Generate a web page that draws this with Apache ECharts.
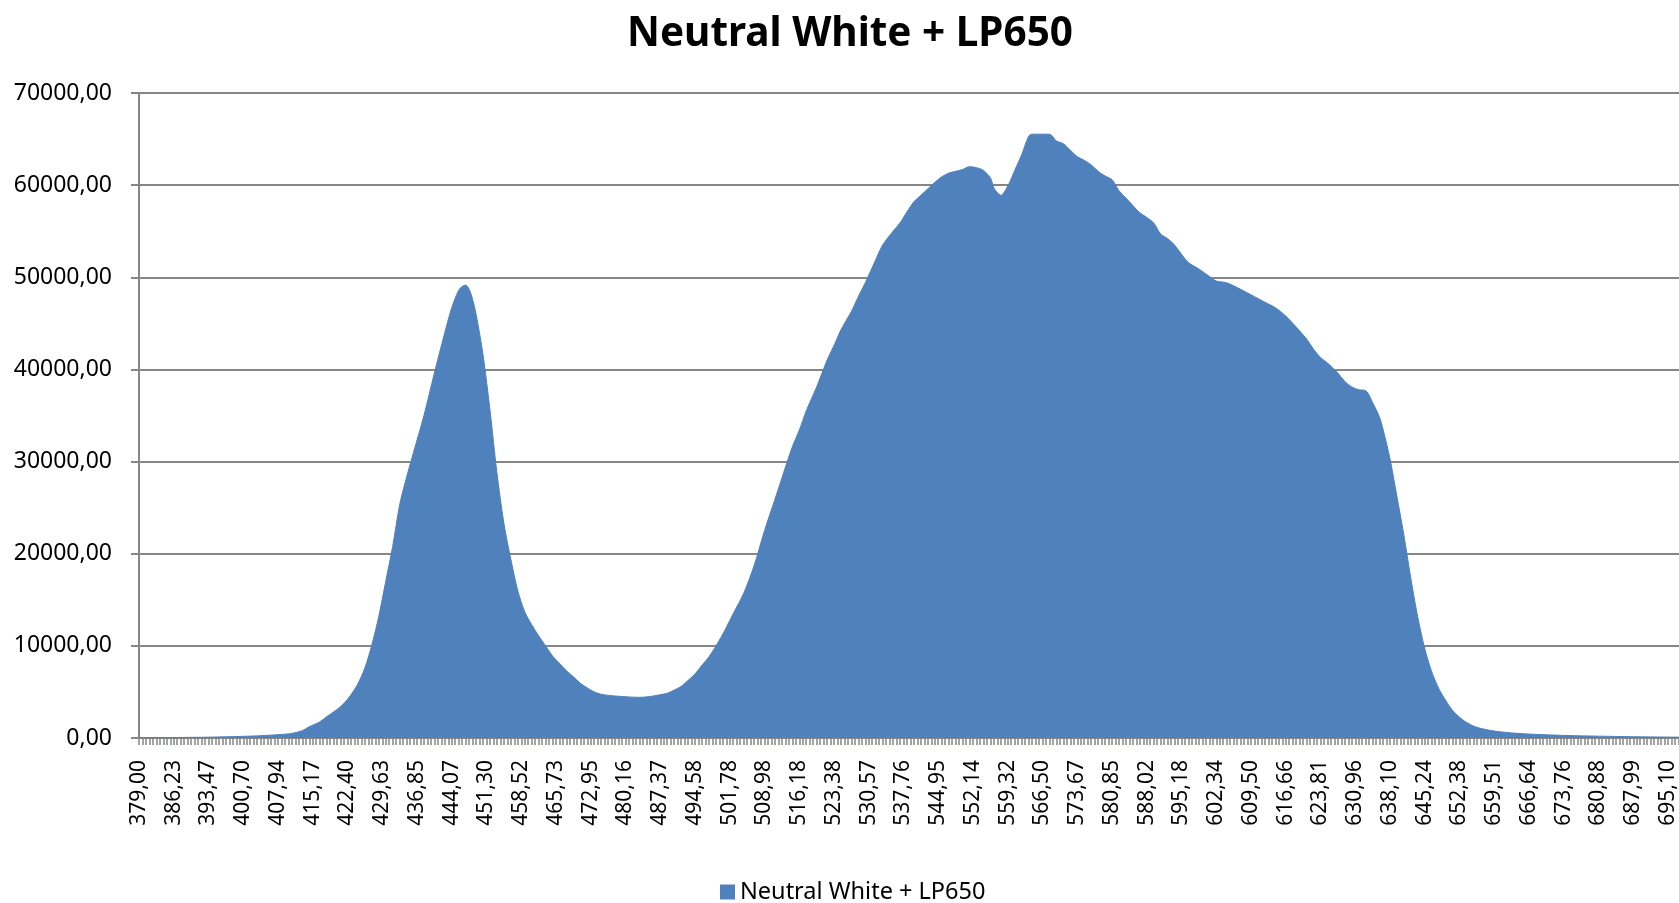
<!DOCTYPE html>
<html>
<head>
<meta charset="utf-8">
<title>Neutral White + LP650</title>
<script src="https://cdn.jsdelivr.net/npm/echarts@6/dist/echarts.min.js"></script>
<style>
  html, body { margin: 0; padding: 0; background: #fff; }
  #chart { width: 1679px; height: 903px; }
</style>
</head>
<body>
<div id="chart"></div>
<script>
// wavelength labels, one every 10 detector pixels
const tickLabels = ['379,00', '386,23', '393,47', '400,70', '407,94', '415,17', '422,40', '429,63',
  '436,85', '444,07', '451,30', '458,52', '465,73', '472,95', '480,16', '487,37', '494,58', '501,78',
  '508,98', '516,18', '523,38', '530,57', '537,76', '544,95', '552,14', '559,32', '566,50', '573,67',
  '580,85', '588,02', '595,18', '602,34', '609,50', '616,66', '623,81', '630,96', '638,10', '645,24',
  '652,38', '659,51', '666,64', '673,76', '680,88', '687,99', '695,10']

// detector pixel index (0 = 379,00 nm)
const pixelIdx = [0, 5, 10, 15, 20, 25, 30, 35, 40, 44, 47, 49, 52, 54, 57, 59, 61, 63, 65, 67, 69, 71,
  73, 75, 77, 79, 82, 85, 88, 90, 92, 93, 94, 95, 96, 97, 99, 101, 103, 105, 107, 109, 111, 113, 115,
  117, 119, 121, 123, 125, 127, 130, 132, 134, 137, 140, 144, 147, 150, 152, 154, 156, 158, 160, 162,
  164, 167, 169, 171, 174, 177, 180, 183, 185, 188, 190, 192, 195, 198, 200, 202, 205, 207, 209, 212,
  214, 217, 219, 221, 223, 225, 227, 229, 231, 233, 235, 237, 239, 241, 243, 245, 246, 247, 248, 250,
  252, 254, 256, 257, 262, 264, 266, 268, 270, 272, 274, 276, 278, 280, 282, 284, 286, 288, 290, 292,
  294, 296, 298, 300, 302, 305, 308, 310, 313, 317, 321, 324, 327, 330, 333, 336, 338, 340, 342, 345,
  347, 349, 351, 353, 355, 357, 358, 360, 362, 364, 366, 368, 370, 372, 374, 376, 378, 381, 384, 386,
  390, 395, 400, 405, 410, 420, 430, 440, 450]

// measured counts
const counts = [30, 40, 50, 70, 90, 130, 180, 250, 360, 500, 800, 1230, 1750, 2310, 3100, 3760, 4700,
  5900, 7600, 10100, 13200, 17000, 20800, 25300, 28300, 31000, 35000, 39600, 44000, 46700, 48600,
  49000, 49150, 48700, 47600, 46000, 41600, 35600, 28800, 23300, 19400, 16000, 13700, 12300, 11100,
  10000, 8900, 8100, 7300, 6650, 5950, 5200, 4850, 4680, 4560, 4480, 4410, 4500, 4700, 4850, 5200,
  5600, 6250, 6950, 7900, 8800, 10600, 12000, 13500, 15700, 18700, 22500, 25900, 28200, 31600, 33400,
  35500, 38100, 41000, 42600, 44300, 46300, 47900, 49400, 51900, 53500, 55000, 55900, 57100, 58200,
  58900, 59600, 60300, 60900, 61300, 61500, 61700, 62000, 61900, 61600, 60800, 59700, 59200, 58900,
  59900, 61600, 63300, 65300, 65535, 65535, 64800, 64500, 63800, 63100, 62700, 62200, 61500, 61000,
  60600, 59400, 58600, 57800, 57000, 56500, 55900, 54700, 54200, 53500, 52500, 51600, 50900, 50100,
  49600, 49400, 48700, 47900, 47300, 46700, 45800, 44600, 43300, 42200, 41300, 40700, 39600, 38700,
  38100, 37800, 37700, 36400, 34800, 33500, 30300, 26200, 22000, 17300, 13100, 9700, 7200, 5400, 4100,
  3000, 1950, 1300, 1050, 750, 550, 430, 350, 280, 200, 140, 100, 80]

const seriesName = 'Neutral White + LP650'
const fontFamily = '"Noto Sans", "Open Sans", sans-serif'

const chart = echarts.init(document.getElementById('chart'))

chart.setOption({
  animation: false,
  backgroundColor: '#fff',

  title: {
    text: seriesName,
    left: 845,
    top: 9,
    textAlign: 'center',
    textStyle: { fontFamily: fontFamily, fontSize: 40.5, fontWeight: 'bold', color: '#000' }
  },

  legend: {
    data: [seriesName],
    left: 720,
    top: 880,
    padding: 0,
    icon: 'rect',
    itemWidth: 15,
    itemHeight: 15,
    itemGap: 5,
    textStyle: { fontFamily: fontFamily, fontSize: 23.5, color: '#000' }
  },

  // plot runs off the right edge, like the cropped original
  grid: {
    left: 139,
    top: 93,
    width: 1563.75,
    bottom: 165,
    containLabel: false,
    outerBoundsMode: 'none'
  },

  xAxis: {
    type: 'value',
    min: 0,
    max: 450,
    interval: 10,
    axisLine: { lineStyle: { color: '#868686', width: 2 } },
    axisTick: { show: true, length: 7, lineStyle: { color: '#868686', width: 1.5 } },
    minorTick: { show: true, splitNumber: 10, length: 7, lineStyle: { color: '#868686', width: 1.5 } },
    splitLine: { show: false },
    axisLabel: {
      rotate: 90,
      margin: 22,
      padding: [6, 0, 0, 0],
      color: '#000',
      fontFamily: fontFamily,
      fontSize: 21,
      showMaxLabel: false,
      formatter: v => tickLabels[Math.round(v / 10)] || ''
    }
  },

  yAxis: {
    type: 'value',
    min: 0,
    max: 70000,
    interval: 10000,
    axisLine: { show: true, lineStyle: { color: '#868686', width: 2 } },
    axisTick: { show: true, length: 8, lineStyle: { color: '#868686', width: 2 } },
    splitLine: { lineStyle: { color: '#868686', width: 2 } },
    axisLabel: {
      margin: 27,
      color: '#000',
      fontFamily: fontFamily,
      fontSize: 23,
      formatter: v => v.toFixed(2).replace('.', ',')
    }
  },

  series: [{
    name: seriesName,
    type: 'line',
    data: pixelIdx.map((x, i) => [x, counts[i]]),
    showSymbol: false,
    smooth: 0.3,
    itemStyle: { color: '#4F81BD' },
    lineStyle: { color: '#4F81BD', width: 1 },
    areaStyle: { color: '#4F81BD', opacity: 1 },
    z: 3
  }]
})
</script>
</body>
</html>
